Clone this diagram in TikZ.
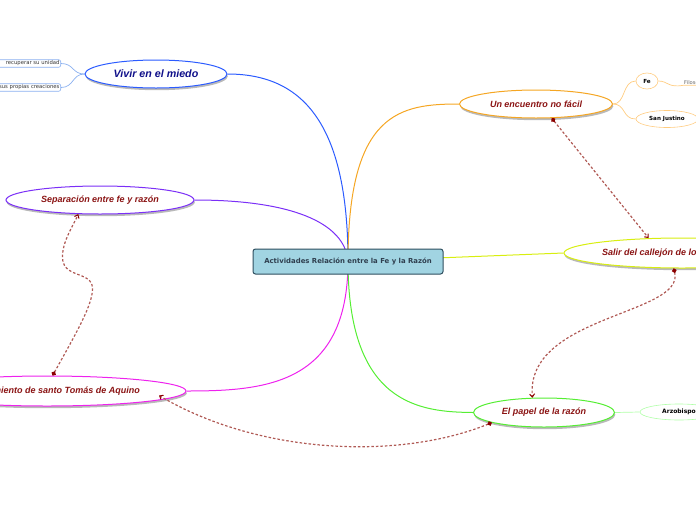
\documentclass[tikz,border=0pt]{standalone}
\usepackage{fontspec}
\setmainfont{Liberation Sans}
\newfontfamily\dejavu{DejaVu Sans}
\usetikzlibrary{arrows.meta,shapes.geometric,shadows,backgrounds}
\definecolor{cBlue}{HTML}{2B5BFF}
\definecolor{cNavy}{HTML}{10108A}
\definecolor{cPurple}{HTML}{7B2FF7}
\definecolor{cMag}{HTML}{EE22EE}
\definecolor{cOrange}{HTML}{F5A623}
\definecolor{cYellow}{HTML}{D8EE10}
\definecolor{cGreen}{HTML}{55EE33}
\definecolor{cDark}{HTML}{8B1414}
\definecolor{cDash}{HTML}{B05A55}
\definecolor{cDot}{HTML}{8B0000}
\definecolor{cCentFill}{HTML}{A1D4E2}
\definecolor{cCentDraw}{HTML}{2E4E5E}
\definecolor{cCentText}{HTML}{2F3F4F}
\definecolor{cLBlue}{HTML}{8AB0F0}
\definecolor{cLOrange}{HTML}{FFCC80}
\definecolor{cLGreen}{HTML}{B0FFA8}
\begin{document}
\begin{tikzpicture}[x=1pt,y=-1pt,
  mainell/.style={ellipse, draw, line width=1pt, fill=white, inner sep=0pt,
    drop shadow={shadow xshift=0.8pt, shadow yshift=-2.2pt, fill=black!50, opacity=.55}},
  maintxt/.style={text=cDark, font=\fontsize{9}{10}\selectfont\bfseries\itshape, inner sep=0pt},
  smallbox/.style={draw=cLBlue, line width=.6pt, rounded corners=2pt, fill=white, inner sep=1.2pt,
    font=\dejavu\fontsize{5.3}{6}\selectfont, text=black!80},
  smallell/.style={ellipse, line width=.6pt, fill=white, inner sep=0pt,
    font=\dejavu\fontsize{5.6}{6.5}\selectfont\bfseries, text=black},
  branch/.style={line width=1pt},
  subline/.style={line width=.7pt},
  rel/.style={draw=cDash, line width=1.2pt, dash pattern=on 2.5pt off 2pt,
    {Circle[length=4.5pt,width=4.5pt,fill=cDot,color=cDot]}-{Straight Barb[length=3pt,width=5pt,color=cDot,line width=1pt]}}
]
\useasboundingbox (0,0) rectangle (696,520);
\clip (0,0) rectangle (696,520);

% central node
\node[draw=cCentDraw, fill=cCentFill, line width=1pt, rounded corners=2.5pt,
  minimum width=190pt, minimum height=25pt, inner sep=0pt,
  font=\dejavu\fontsize{6.9}{8}\selectfont\bfseries, text=cCentText]
  (c) at (348,261.5) {Actividades Relación entre la Fe y la Razón};

% main ellipses
\node[mainell, draw=cBlue, minimum width=142pt, minimum height=28pt,
  text=cNavy, font=\fontsize{10.7}{12}\selectfont\bfseries\itshape]
  (vivir) at (156,74) {Vivir en el miedo};
\node[mainell, draw=cPurple, minimum width=188pt, minimum height=28pt]
  (sep) at (100,200) {};
\node[maintxt] (septxt) at (sep.center) {Separación entre fe y razón};
\node[mainell, draw=cMag, minimum width=278pt, minimum height=30pt]
  (tomas) at (47,391) {};
\node[maintxt, anchor=east] (tomastxt) at (140,391) {pensamiento de santo Tomás de Aquino};
\node[mainell, draw=cOrange, minimum width=153pt, minimum height=28pt]
  (enc) at (536,104) {};
\node[maintxt] (enctxt) at (enc.center) {Un encuentro no fácil};
\node[mainell, draw=cYellow, minimum width=236pt, minimum height=30pt]
  (salir) at (682,253) {};
\node[maintxt, anchor=west] (salirtxt) at (602,253) {Salir del callejón de lo};
\node[mainell, draw=cGreen, minimum width=141pt, minimum height=29pt]
  (papel) at (544,412.5) {};
\node[maintxt] (papeltxt) at (papel.center) {El papel de la razón};

% small nodes
\node[smallbox, anchor=east, text width=110pt, align=right] (b1) at (61,63.5) {recuperar su unidad};
\node[smallbox, anchor=east, text width=110pt, align=right] (b2) at (61,87.5) {sus propias creaciones};
\node[smallell, draw=cLOrange, minimum width=22pt, minimum height=16pt] (fe) at (647,81) {Fe};
\node[smallell, draw=cLOrange, minimum width=62pt, minimum height=17pt] (sj) at (667,119) {San Justino};
\node[anchor=west, inner sep=1pt, font=\dejavu\fontsize{5.2}{6}\selectfont, text=black!60] (filo) at (683,82) {Filosofía};
\node[smallell, draw=cLGreen, minimum width=78pt, minimum height=16pt] (arz) at (679,412) {};
\node[anchor=west, inner sep=0pt, font=\dejavu\fontsize{6}{7}\selectfont\bfseries] (arztxt) at (662,412) {Arzobispo};

\coordinate (tomasend) at (159,395.5);

\begin{pgfonlayer}{background}
  \draw[branch, cBlue]   (c.center) .. controls (348,120) and (300,74) .. (vivir.east);
  \draw[branch, cPurple] (c.center) .. controls (345,222) and (290,200) .. (sep.east);
  \draw[branch, cOrange] (c.center) .. controls (348,112) and (400,104) .. (enc.west);
  \draw[branch, cYellow] (c.center) -- (salir.west);
  \draw[branch, cMag]    (c.center) .. controls (348,385) and (265,391) .. (tomas.east);
  \draw[branch, cGreen]  (c.center) .. controls (348,405) and (420,412) .. (papel.west);
  % sub connectors
  \draw[subline, cLBlue] (vivir.west) .. controls (72,74) and (74,63.5) .. (b1.east);
  \draw[subline, cLBlue] (vivir.west) .. controls (72,74) and (74,87.5) .. (b2.east);
  \draw[subline, cLOrange] (enc.east) .. controls (626,104) and (622,81) .. (fe.west);
  \draw[subline, cLOrange] (enc.east) .. controls (626,104) and (622,119) .. (sj.west);
  \draw[subline, cLOrange] (fe.east) .. controls (668,81) and (668,88) .. (filo.south west) -- (filo.south east);
  \draw[subline, cLGreen] (papel.east) -- (arz.west);
\end{pgfonlayer}

% relationship arrows
\draw[rel] (tomas.70) .. controls (75,335) and (96,300) .. (92,285)
  .. controls (89,273) and (66,276) .. (63,262)
  .. controls (60,245) and (72,228) .. (sep.213);
\draw[rel] (enc.-42) -- (salir.156);
\draw[rel] (salir.242) .. controls (685,315) and (525,315) .. (papel.128);
\draw[rel] (papel.191) .. controls (400,460) and (260,455) .. (tomasend);
\end{tikzpicture}
\end{document}
